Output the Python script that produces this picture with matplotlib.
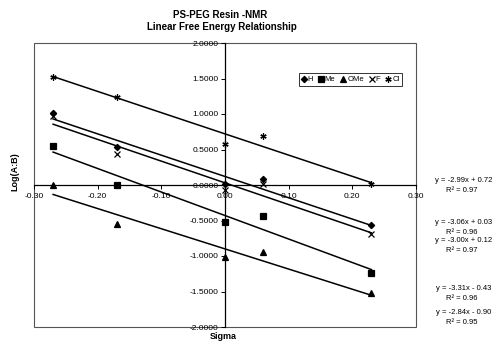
import matplotlib.pyplot as plt
import numpy as np
from matplotlib.patches import Rectangle

plt.rcParams["font.family"] = ["Liberation Sans", "DejaVu Sans"]

# Hammett sigma values (OMe, Me, H, F, Cl substituents on the resin)
sigma = [-0.27, -0.17, 0.00, 0.06, 0.23]

series_names = ["H", "Me", "OMe", "F", "Cl"]
log_h = [1.02, 0.54, 0.01, 0.085, -0.57]
log_me = [0.555, 0.00, -0.525, -0.43, -1.235]
log_ome = [0.00, -0.545, -1.01, -0.95, -1.525]
log_f = [0.97, 0.43, -0.07, 0.01, -0.69]
log_cl = [1.525, 1.235, 0.577, 0.694, 0.01]

# trendline equations as printed on the chart
slopes = [-3.00, -3.31, -2.84, -3.06, -2.99]
intercepts = [0.12, -0.43, -0.90, 0.03, 0.72]
r_squared = [0.97, 0.96, 0.95, 0.96, 0.97]

x_ticks = [-0.30, -0.20, -0.10, 0.00, 0.10, 0.20, 0.30]
y_ticks = [-2.0, -1.5, -1.0, -0.5, 0.0, 0.5, 1.0, 1.5, 2.0]

markers = ["D", "s", "^", "x", (6, 2, 0)]
sizes = [3.2, 3.8, 4.2, 4.0, 4.5]

W, H = 495, 342


def main() -> None:
    fig = plt.figure(figsize=(W / 100, H / 100), dpi=100)
    ax = fig.add_axes([34 / W, 1 - 327 / H, 382 / W, 284 / H])

    all_y = [log_h, log_me, log_ome, log_f, log_cl]
    x = np.array(sigma)
    x_line = np.array([x.min(), x.max()])
    for name, y, m, ms, k, b in zip(series_names, all_y, markers, sizes, slopes, intercepts):
        ax.plot(x, y, linestyle="none", marker=m, markersize=ms, color="black",
                markeredgewidth=0.9, label=name, clip_on=False, zorder=3)
        ax.plot(x_line, k * x_line + b, color="black", linewidth=1.1, zorder=2)

    ax.set_xlim(-0.30, 0.30)
    ax.set_ylim(-2.0, 2.0)

    ax.spines["left"].set_position(("data", 0))
    ax.spines["bottom"].set_position(("data", 0))
    ax.spines["top"].set_visible(False)
    ax.spines["right"].set_visible(False)
    for s in ("left", "bottom"):
        ax.spines[s].set_linewidth(0.9)
    ax.add_patch(Rectangle((0, 0), 1, 1, transform=ax.transAxes, fill=False,
                           edgecolor="#555555", linewidth=0.8, clip_on=False))

    ax.set_xticks(x_ticks)
    ax.set_xticklabels([f"{t:.2f}" for t in x_ticks])
    ax.set_yticks(y_ticks)
    ax.set_yticklabels([f"{t:.4f}" for t in y_ticks])
    ax.tick_params(axis="both", labelsize=6, length=3, width=0.7, direction="out")
    ax.tick_params(axis="x", pad=3)
    ax.tick_params(axis="y", pad=1.5)

    fig.text(220 / W, 1 - 15 / H, "PS-PEG Resin -NMR", ha="center", va="center",
             fontsize=7, fontweight="bold")
    fig.text(222 / W, 1 - 26.5 / H, "Linear Free Energy Relationship", ha="center",
             va="center", fontsize=7, fontweight="bold")
    fig.text(223 / W, 1 - 336.5 / H, "Sigma", ha="center", va="center", fontsize=6.5,
             fontweight="bold")
    fig.text(15 / W, 1 - 172 / H, "Log(A:B)", ha="center", va="center", rotation=90,
             fontsize=6.5, fontweight="bold")

    leg = ax.legend(loc="upper left", bbox_to_anchor=(0.693, 0.893), ncol=5, fontsize=5.5,
                    handlelength=0.6, handletextpad=0.2, columnspacing=0.75,
                    borderpad=0.35, borderaxespad=0, frameon=True, fancybox=False)
    leg.get_frame().set_edgecolor("black")
    leg.get_frame().set_linewidth(0.7)

    # equation labels on the right edge (pixel row of the first line)
    eq_row = {"Cl": 180, "F": 222, "H": 241, "Me": 289, "OMe": 312}
    for name, k, b, r2 in zip(series_names, slopes, intercepts, r_squared):
        sign = "+" if b >= 0 else "-"
        row = eq_row[name]
        fig.text(464 / W, 1 - row / H, f"y = {k:.2f}x {sign} {abs(b):.2f}",
                 ha="center", va="center", fontsize=5.5)
        fig.text(462 / W, 1 - (row + 10) / H, f"R² = {r2:.2f}",
                 ha="center", va="center", fontsize=5.5)

    fig.savefig("out.png", dpi=100)
    plt.close(fig)


if __name__ == "__main__":
    main()
